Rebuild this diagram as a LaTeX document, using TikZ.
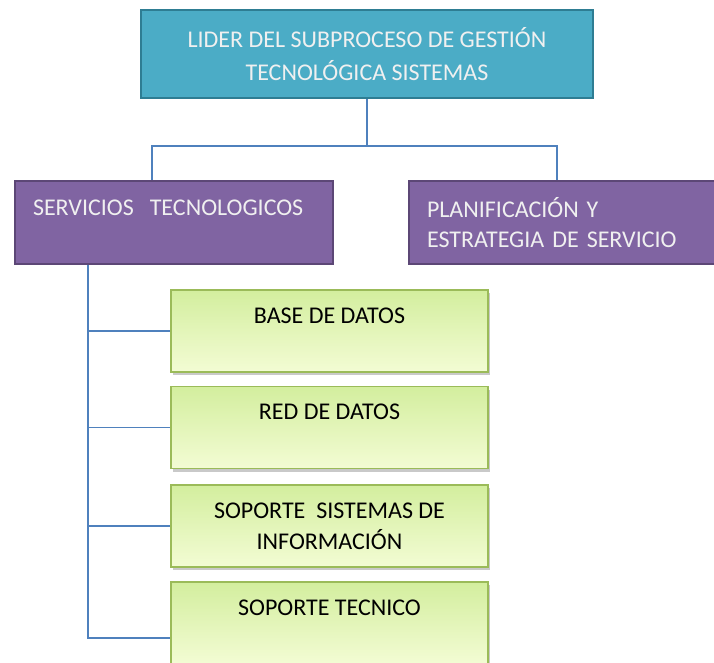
\documentclass[tikz,border=0pt]{standalone}
\usepackage{fontspec}
\setmainfont{Carlito}
\usetikzlibrary{shadows}
\definecolor{conncol}{HTML}{4F81BD}
\definecolor{tealfill}{HTML}{4BACC6}
\definecolor{tealedge}{HTML}{2E7D93}
\definecolor{purpfill}{HTML}{8064A2}
\definecolor{purpedge}{HTML}{5C4776}
\definecolor{greentop}{HTML}{D3EE9E}
\definecolor{greenbot}{HTML}{F3FCD4}
\definecolor{greenedge}{HTML}{9BBB59}
\tikzset{
  conn/.style={conncol,line width=1.4pt},
  jefe/.style={draw=tealedge,line width=1.8pt,fill=tealfill,text=white!94!black,
    minimum width=452pt,minimum height=88pt,align=center,
    font=\fontsize{24}{33}\selectfont},
  area/.style={draw=purpedge,line width=1.8pt,fill=purpfill,text=white!94!black,
    minimum height=83pt,align=left,inner xsep=18pt,
    font=\fontsize{24}{30}\selectfont},
  grupo/.style={draw=greenedge,line width=1.4pt,top color=greentop,bottom color=greenbot,
    minimum width=317pt,minimum height=82pt,align=center,
    drop shadow={shadow xshift=2pt,shadow yshift=-3pt,fill=black!35,opacity=0.6},
    font=\fontsize{24}{31}\selectfont}
}
\begin{document}
\begin{tikzpicture}[x=1pt,y=-1pt]
  \useasboundingbox[fill=white] (0,0) rectangle (714,662);
  \node[jefe] (lider) at (367,54) {LIDER DEL SUBPROCESO DE GESTIÓN\\TECNOLÓGICA SISTEMAS};
  \node[area,text width=282pt] (serv) at (174,222.5) {SERVICIOS\ \ TECNOLOGICOS\\ \mbox{}};
  \node[area,text width=270pt] (plan) at (562,222.5) {PLANIFICACIÓN Y\\ESTRATEGIA DE SERVICIO};
  \node[grupo] (base) at (329.5,331) {BASE DE DATOS\\ \mbox{}};
  \node[grupo] (red) at (329.5,427.5) {RED DE DATOS\\ \mbox{}};
  \node[grupo] (soporte) at (329.5,526) {SOPORTE\ \ SISTEMAS DE\\INFORMACIÓN};
  \node[grupo] (tecnico) at (329.5,623) {SOPORTE TECNICO\\ \mbox{}};
  % conectores
  \draw[conn] (lider.south) -- ++(0,47) coordinate (cruce);
  \draw[conn] (cruce) -| ([xshift=-22pt]serv.north);
  \draw[conn] (cruce) -| ([xshift=-5pt]plan.north);
  \coordinate (tronco) at ([xshift=-86pt]serv.south);
  \draw[conn] (tronco) |- ([yshift=-15pt]tecnico.west);
  \foreach \g in {base,red,soporte}
    \draw[conn] (tronco |- \g.west) -- (\g.west);
\end{tikzpicture}
\end{document}
